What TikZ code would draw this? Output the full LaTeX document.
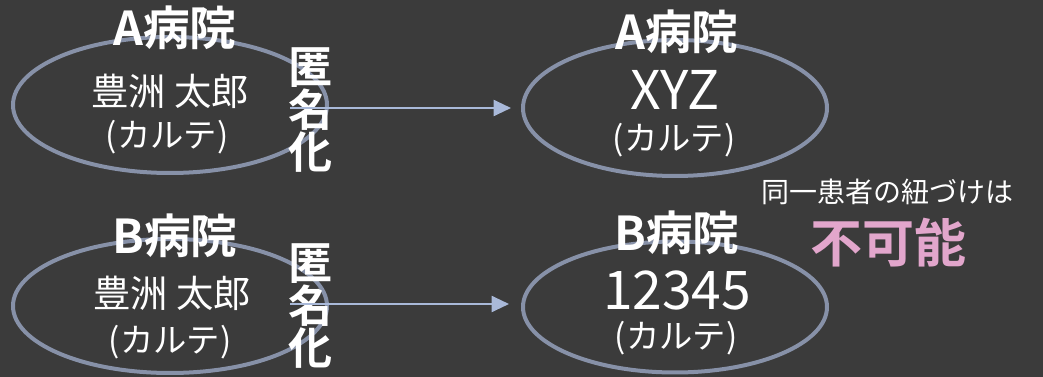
\documentclass[tikz,border=0pt]{standalone}
\usepackage{fontspec}
\setmainfont{Noto Sans CJK JP}[BoldFont={Noto Sans CJK JP Bold}]
\usetikzlibrary{shapes.geometric,arrows.meta}
\newdimen\pxu \pxu=0.75pt
\definecolor{bgc}{HTML}{3B3B3B}
\definecolor{ellc}{HTML}{8791A8}
\definecolor{arrc}{HTML}{A9B9D9}
\definecolor{pinkc}{HTML}{E2A6CC}
\tikzset{
  oval/.style={draw=ellc, line width=3pt, ellipse, inner sep=0pt},
  title/.style={text=white, font=\bfseries\fontsize{35}{37}\selectfont, inner sep=0pt},
  body/.style={text=white, font=\fontsize{25}{27}\selectfont, inner sep=0pt},
  namet/.style={text=white, font=\fontsize{28}{30}\selectfont, inner sep=0pt},
  idtxt/.style={text=white, font=\fontsize{40}{42}\selectfont, inner sep=0pt},
  vert/.style={text=white, font=\bfseries\fontsize{33}{31}\selectfont, align=center, inner sep=0pt},
  conn/.style={draw=arrc, line width=1.5pt, -{Triangle[length=13pt,width=12pt]}},
}
\begin{document}
\begin{tikzpicture}[x=0.75pt,y=-0.75pt]
\useasboundingbox (0,0) rectangle (1043,377);
\fill[bgc] (0,0) rectangle (1043,377);
% ellipses
\node[oval, minimum width=314\pxu, minimum height=136\pxu] (eA1) at (170,105) {};
\node[oval, minimum width=304\pxu, minimum height=136\pxu] (eA2) at (675,108) {};
\node[oval, minimum width=314\pxu, minimum height=134\pxu] (eB1) at (170,306) {};
\node[oval, minimum width=304\pxu, minimum height=131\pxu] (eB2) at (675,307) {};
% titles
\node[title] (tA1) at (175,28) {A病院};
\node[title] (tA2) at (677,32) {A病院};
\node[title] (tB1) at (175,236) {B病院};
\node[title] (tB2) at (677,233) {B病院};
% body texts
\node[namet] (nA1) at (170,91) {豊洲 太郎};
\node[body] (kA1) at (167,137) {(カルテ)};
\node[namet] (nB1) at (172,293) {豊洲 太郎};
\node[body] (kB1) at (170,342) {(カルテ)};
\node[idtxt] (xA2) at (675,90) {XYZ};
\node[body] (kA2) at (674,140) {(カルテ)};
\node[idtxt] (xB2) at (677,290) {12345};
\node[body] (kB2) at (676,338) {(カルテ)};
% vertical labels
\node[vert] (vA) at (310,110) {匿\\名\\化};
\node[vert] (vB) at (310,306) {匿\\名\\化};
% note
\node[text=white, font=\fontsize{21}{23}\selectfont, inner sep=0pt] (note) at (887,192) {同一患者の紐づけは};
\node[text=pinkc, font=\bfseries\fontsize{39}{41}\selectfont, inner sep=0pt] (imp) at (888,243) {不可能};
% arrows
\coordinate (sA) at (290,108);
\coordinate (sB) at (290,304);
\draw[conn, shorten >=10\pxu] (sA) -- (sA -| eA2.west);
\draw[conn, shorten >=12\pxu] (sB) -- (sB -| eB2.west);
\end{tikzpicture}
\end{document}
